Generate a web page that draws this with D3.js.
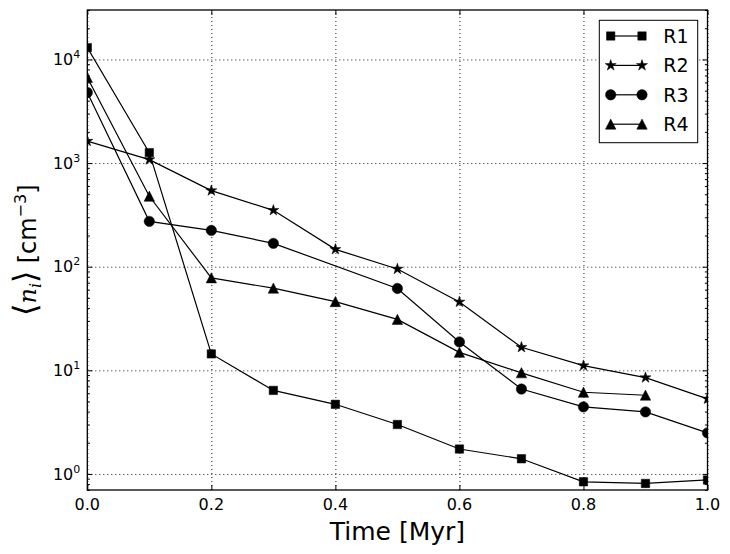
<!DOCTYPE html>
<html>
<head>
<meta charset="utf-8">
<script src="https://cdn.jsdelivr.net/npm/d3@7"></script>
<style>
  body { margin: 0; background: #fff; }
  text { font-family: "DejaVu Sans", sans-serif; fill: #000; }
</style>
</head>
<body>
<div id="chart"></div>
<script>
var width = 730;
var height = 554;

// data
const times = [0.0, 0.1, 0.2, 0.3, 0.4, 0.5, 0.6, 0.7, 0.8, 0.9, 1.0];
const seriesNames = ["R1", "R2", "R3", "R4"];
const r1 = [13000, 1260, 14.4, 6.4, 4.7, 3.0, 1.74, 1.40, 0.84, 0.81, 0.875];
const r2 = [1630, 1080, 542, 350, 147, 95, 45.7, 16.7, 11.1, 8.5, 5.3];
const r3 = [4800, 274, 224, 168, null, 61.7, 18.8, 6.6, 4.44, 3.97, 2.49];
const r4 = [6700, 478, 78, 62, 46, 31, 14.9, 9.46, 6.14, 5.75, null];
const xTicks = [0.0, 0.2, 0.4, 0.6, 0.8, 1.0];
const yTicks = [1, 10, 100, 1000, 10000];
const yDomain = [0.7, 30000];

const seriesValues = [r1, r2, r3, r4];
const markerKinds = ["square", "star", "circle", "triangle"];

var margin = {top: 10, right: 22.5, bottom: 64, left: 87.3};
var plotW = width - margin.left - margin.right;
var plotH = height - margin.top - margin.bottom;

const x = d3.scaleLinear().domain([0, 1]).range([0, plotW]);
const y = d3.scaleLog().domain(yDomain).range([plotH, 0]);

function starPath(r) {
  var ri = r * 0.381966;
  var pts = [];
  for (let i = 0; i < 10; i++) {
    var a = -Math.PI / 2 + i * Math.PI / 5;
    var rr = i % 2 === 0 ? r : ri;
    pts.push([rr * Math.cos(a), rr * Math.sin(a)]);
  }
  return "M" + pts.map(p => p[0].toFixed(2) + "," + p[1].toFixed(2)).join("L") + "Z";
}

function markerPath(kind) {
  if (kind === "square") return "M-4.2,-4.2H4.2V4.2H-4.2Z";
  if (kind === "circle") return d3.symbol(d3.symbolCircle, Math.PI * 5.2 * 5.2)();
  if (kind === "triangle") return "M0,-5.2L5.2,5L-5.2,5Z";
  return starPath(5.8);
}

const svg = d3.select("#chart")
  .append("svg")
  .attr("width", width)
  .attr("height", height)
  .attr("viewBox", [0, 0, width, height]);

svg.append("defs").append("clipPath").attr("id", "plotclip")
  .append("rect").attr("width", plotW).attr("height", plotH);

const g = svg.append("g").attr("transform", `translate(${margin.left},${margin.top})`);

// grid
g.append("g")
  .attr("transform", `translate(0,${plotH})`)
  .call(d3.axisBottom(x).tickValues(xTicks).tickSize(-plotH).tickFormat(""))
  .call(a => a.select(".domain").remove())
  .selectAll("line")
  .attr("stroke", "#000").attr("stroke-width", 0.9).attr("stroke-dasharray", "1,3");

g.append("g")
  .call(d3.axisLeft(y).tickValues(yTicks).tickSize(-plotW).tickFormat(""))
  .call(a => a.select(".domain").remove())
  .selectAll("line")
  .attr("stroke", "#000").attr("stroke-width", 0.9).attr("stroke-dasharray", "1,3");

// lines and markers
const line = d3.line().x(d => x(d.t)).y(d => y(d.v));
const plot = g.append("g").attr("clip-path", "url(#plotclip)");

seriesValues.forEach(function(vals, i) {
  var pts = times.map((t, j) => ({t: t, v: vals[j]})).filter(d => d.v != null);
  plot.append("path")
    .attr("d", line(pts))
    .attr("fill", "none")
    .attr("stroke", "#000")
    .attr("stroke-width", 1.2);
  plot.selectAll(null)
    .data(pts)
    .enter()
    .append("path")
    .attr("transform", d => `translate(${x(d.t)},${y(d.v)})`)
    .attr("d", markerPath(markerKinds[i]))
    .attr("fill", "#000")
    .attr("stroke", "#000")
    .attr("stroke-width", 0.5);
});

// ticks (inward, all four sides)
var minorTicks = [];
for (let e = -1; e <= 4; e++) {
  for (let k = 2; k <= 9; k++) {
    var v = k * Math.pow(10, e);
    if (v >= yDomain[0] && v <= yDomain[1]) minorTicks.push(v);
  }
}

function styleTicks(a) {
  a.select(".domain").remove();
  a.selectAll("line").attr("stroke", "#000").attr("stroke-width", 1);
}

g.append("g").attr("transform", `translate(0,${plotH})`)
  .call(d3.axisBottom(x).tickValues(xTicks).tickSize(-5).tickFormat("")).call(styleTicks);
g.append("g")
  .call(d3.axisTop(x).tickValues(xTicks).tickSize(-5).tickFormat("")).call(styleTicks);
g.append("g")
  .call(d3.axisLeft(y).tickValues(yTicks).tickSize(-5).tickFormat("")).call(styleTicks);
g.append("g")
  .call(d3.axisLeft(y).tickValues(minorTicks).tickSize(-2.6).tickFormat("")).call(styleTicks);
g.append("g").attr("transform", `translate(${plotW},0)`)
  .call(d3.axisRight(y).tickValues(yTicks).tickSize(-5).tickFormat("")).call(styleTicks);
g.append("g").attr("transform", `translate(${plotW},0)`)
  .call(d3.axisRight(y).tickValues(minorTicks).tickSize(-2.6).tickFormat("")).call(styleTicks);

// tick labels
g.selectAll(".xlab")
  .data(xTicks)
  .enter()
  .append("text")
  .attr("x", d => x(d))
  .attr("y", plotH + 19.5)
  .attr("text-anchor", "middle")
  .style("font-size", "16px")
  .text(d => d3.format(".1f")(d));

var ylab = g.selectAll(".ylab")
  .data(yTicks)
  .enter()
  .append("text")
  .attr("x", -7)
  .attr("y", d => y(d) + 5.7)
  .attr("text-anchor", "end")
  .style("font-size", "16px");
ylab.append("tspan").text("10");
ylab.append("tspan")
  .attr("dy", -7)
  .style("font-size", "11px")
  .text(d => Math.round(Math.log10(d)));

// frame
g.append("rect")
  .attr("width", plotW)
  .attr("height", plotH)
  .attr("fill", "none")
  .attr("stroke", "#000")
  .attr("stroke-width", 1.3);

// axis titles
svg.append("text")
  .attr("x", margin.left + plotW / 2)
  .attr("y", 540)
  .attr("text-anchor", "middle")
  .style("font-size", "25px")
  .text("Time [Myr]");

var yt = svg.append("text")
  .attr("transform", `translate(36,${margin.top + plotH / 2}) rotate(-90)`)
  .attr("text-anchor", "middle")
  .style("font-size", "24px");
yt.append("tspan").style("font-size", "32px").style("font-weight", "200").text("\u27E8");
yt.append("tspan").style("font-family", "DejaVu Serif").style("font-style", "italic").text("n");
yt.append("tspan").attr("dy", 5).style("font-family", "DejaVu Serif").style("font-style", "italic").style("font-size", "16px").text("i");
yt.append("tspan").attr("dy", -5).style("font-size", "32px").style("font-weight", "200").text("\u27E9");
yt.append("tspan").text(" [cm");
yt.append("tspan").attr("dy", -10).style("font-size", "16px").text("\u22123");
yt.append("tspan").attr("dy", 10).text("]");

// legend
var legX = plotW - 9.8 - 98.4;
var legY = 10.3;
const legend = g.append("g").attr("transform", `translate(${legX},${legY})`);
legend.append("rect")
  .attr("width", 98.4)
  .attr("height", 122.4)
  .attr("fill", "#fff")
  .attr("stroke", "#000")
  .attr("stroke-width", 1);

seriesNames.forEach(function(name, i) {
  var ry = 15.7 + i * 29.4;
  var row = legend.append("g").attr("transform", `translate(0,${ry})`);
  row.append("line")
    .attr("x1", 11.4).attr("x2", 42.7)
    .attr("stroke", "#000").attr("stroke-width", 1.2);
  [11.4, 42.7].forEach(function(mx) {
    row.append("path")
      .attr("transform", `translate(${mx},0)`)
      .attr("d", markerPath(markerKinds[i]))
      .attr("fill", "#000")
      .attr("stroke", "#000")
      .attr("stroke-width", 0.5);
  });
  row.append("text")
    .attr("x", 64)
    .attr("y", 6.8)
    .style("font-size", "19px")
    .text(name);
});
</script>
</body>
</html>
